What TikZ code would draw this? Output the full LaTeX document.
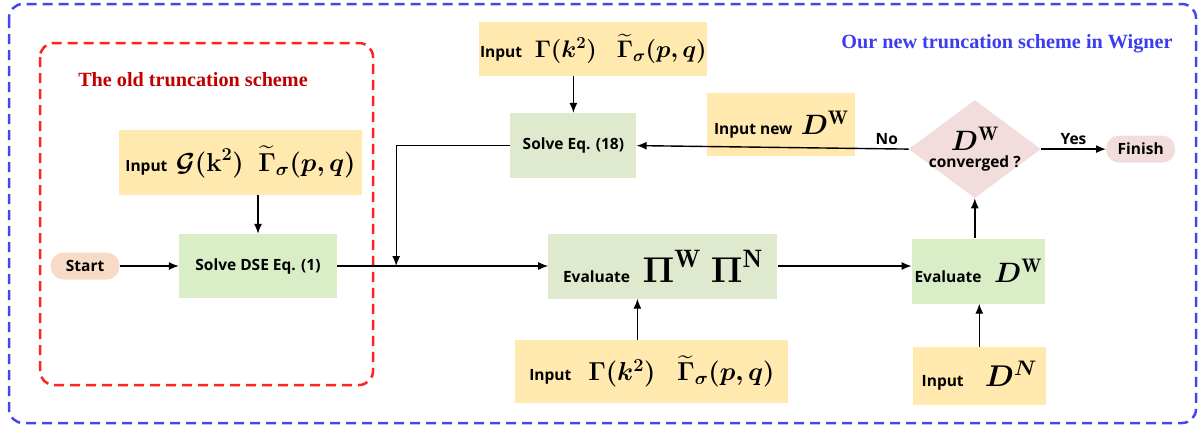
\documentclass[tikz,border=0pt]{standalone}
\usepackage{fix-cm}
\usepackage{amsmath,amssymb,bm}
\usepackage{fontspec}
\setsansfont{Open Sans}
\newfontfamily\titlefont{Liberation Serif}
\usetikzlibrary{shapes.geometric, arrows.meta, positioning, calc}

\definecolor{inputyellow}{HTML}{FFE9AF}
\definecolor{solvegreen}{HTML}{D9EEC7}
\definecolor{evalgreen}{HTML}{DFE9CD}
\definecolor{checkpink}{HTML}{F2DDDC}
\definecolor{startpeach}{HTML}{F8DBC7}
\definecolor{oldred}{HTML}{C00000}
\definecolor{framered}{HTML}{FF2222}
\definecolor{newblue}{HTML}{3C3CF0}
\definecolor{frameblue}{HTML}{4646F0}

% bold maths at a given size
\newcommand{\mtxt}[2]{{\fontsize{#1}{#1}\selectfont$\boldsymbol{#2}$}}

\begin{document}
\begin{tikzpicture}[
    x=1pt, y=-1pt,
    font=\sffamily\bfseries\fontsize{15.5}{17}\selectfont,
    box/.style={inner sep=0pt, align=center},
    inputbox/.style={box, fill=inputyellow},
    solvebox/.style={box, fill=solvegreen},
    evalbox/.style={box, fill=evalgreen},
    pill/.style={box, rounded corners=13pt, minimum width=69pt, minimum height=27pt},
    check/.style={diamond, aspect=1.35, fill=checkpink, inner sep=-10pt, align=center, minimum width=132pt, minimum height=98pt},
    frame/.style={dash pattern=on 10pt off 6pt, line width=2.5pt, rounded corners=14pt},
    arrow/.style={-{Latex[length=10pt, width=8pt]}, line width=1.4pt},
    title/.style={font=\titlefont\bfseries\fontsize{20.2}{23}\selectfont}
]
    \useasboundingbox (0,0) rectangle (1200,429);

    % frames and titles
    \draw[frame, frameblue] (9,4) rectangle (1196,423);
    \draw[frame, framered] (40,43) rectangle (373,385);
    \node (oldT) [title, text=oldred] at (193,80) {The old truncation scheme};
    \node (newT) [title, text=newblue] at (1007,44) {Our new truncation scheme in Wigner};

    % old scheme
    \node (dse) [solvebox, minimum width=158pt, minimum height=64pt] at (258,266) {Solve DSE Eq. (1)};
    \node (start) [pill, fill=startpeach, left=59pt of dse] {Start};
    \node (inG) [inputbox, above=39pt of dse, xshift=-17.5pt, minimum width=243pt, minimum height=65pt]
        {Input\; \mtxt{26}{\mathcal{G}(\mathbf{k}^2)\;\; \widetilde{\Gamma}_{\sigma}(p,q)}};

    % new scheme
    \node (evalPi) [evalbox, right=211pt of dse, minimum width=229pt, minimum height=65pt]
        {Evaluate\;\; \mtxt{36}{\Pi^{\mathrm{W}}\;\Pi^{\mathrm{N}}}};
    \node (inPi) [inputbox, below=41pt of evalPi, xshift=-11pt, minimum width=273pt, minimum height=63pt]
        {Input\;\;\; \mtxt{26}{\Gamma(k^2)\;\;\; \widetilde{\Gamma}_{\sigma}(p,q)}};
    \node (eq18) [evalbox, above=55pt of evalPi, xshift=-89.5pt, minimum width=126pt, minimum height=65pt] {Solve Eq. (18)};
    \node (inGam) [inputbox, above=37pt of eq18, xshift=20pt, minimum width=228pt, minimum height=54pt]
        {Input\;\; \mtxt{24}{\Gamma(k^2)\;\;\; \widetilde{\Gamma}_{\sigma}(p,q)}};
    \node (evalD) [solvebox, right=134pt of evalPi, yshift=-5pt, minimum width=133pt, minimum height=65pt]
        {Evaluate\;\; \mtxt{28}{D^{\mathrm{W}}}};
    \node (inDN) [inputbox, below=43pt of evalD, xshift=1pt, minimum width=133pt, minimum height=58pt]
        {Input\;\;\;\; \mtxt{30}{D^{N}}};
    \node (conv) [check, above=40pt of evalD, xshift=-3.5pt]
        {\mtxt{28}{D^{\mathrm{W}}}\\[0pt] converged ?};
    \node (finish) [pill, fill=checkpink, right=65pt of conv] {Finish};
    \node (inDW) [inputbox, left=53pt of conv, yshift=24.5pt, minimum width=148pt, minimum height=63pt]
        {Input new\; \mtxt{28}{D^{\mathrm{W}}}};

    \coordinate (join) at ($(dse.east)+(59pt,0)$);

    \draw[arrow] (start) -- (dse);
    \draw[arrow] (dse.north |- inG.south) -- (dse.north);
    \draw[arrow] (dse) -- (evalPi);
    \draw[arrow] (eq18.west) -| (join);
    \draw[arrow] (inGam.south -| eq18.north) -- (eq18.north);
    \draw[arrow] ([xshift=-14.5pt]inPi.north) -- ([xshift=-14.5pt]inPi.north |- evalPi.south);
    \draw[arrow] (evalPi) -- (evalPi -| evalD.west);
    \draw[arrow] (inDN.north) -- (inDN.north |- evalD.south);
    \draw[arrow] (evalD.north -| conv.south) -- (conv.south);
    \draw[arrow] (conv.east) -- node[above] {Yes} (finish);
    \draw[arrow] (conv.west) -- node[above, pos=0.08] {No} (eq18.east);
\end{tikzpicture}
\end{document}
